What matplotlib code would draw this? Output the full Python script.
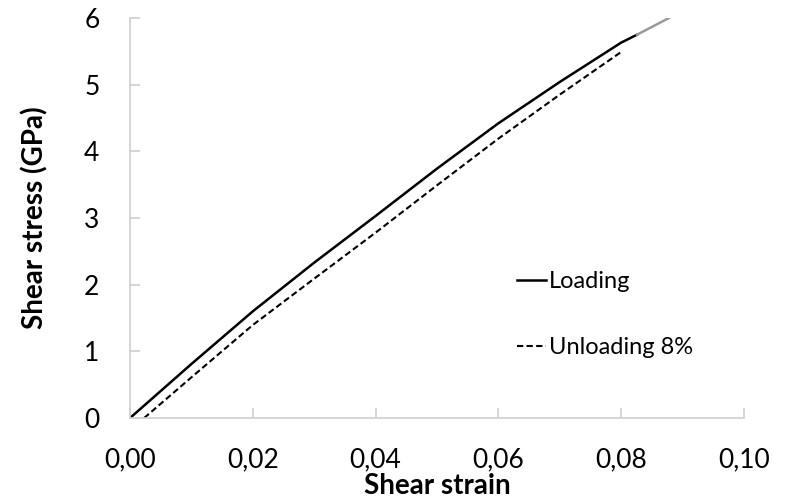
import matplotlib
matplotlib.use('Agg')
import matplotlib.pyplot as plt
from matplotlib.ticker import FuncFormatter

# loading curve (shear strain, shear stress in GPa)
load_strain = [0.0, 0.01, 0.02, 0.03, 0.04, 0.05, 0.06, 0.07, 0.08, 0.0826]
load_stress = [0.0, 0.81, 1.60, 2.33, 3.03, 3.74, 4.42, 5.04, 5.63, 5.75]
# tail of the loading curve past the unloading point
tail_strain = [0.0826, 0.0878]
tail_stress = [5.75, 6.0]
# unloading from 8 %
unload_strain = [0.0023, 0.01, 0.02, 0.03, 0.04, 0.05, 0.06, 0.07, 0.08]
unload_stress = [0.0, 0.61, 1.395, 2.09, 2.78, 3.49, 4.19, 4.85, 5.49]

plt.rcParams['font.family'] = ['Lato', 'DejaVu Sans']

fig = plt.figure(figsize=(7.88, 5.0), dpi=100)
ax = fig.add_axes([0.165, 0.164, 0.779, 0.8])

ax.plot(load_strain, load_stress, '-', color='black', lw=1.8, label='Loading')
ax.plot(tail_strain, tail_stress, '-', color='#9a9a9a', lw=1.8)
ax.plot(unload_strain, unload_stress, '--', color='black', lw=1.5,
        dashes=(3, 1.6), label='Unloading 8%')

ax.set_xlim(0, 0.10)
ax.set_ylim(0, 6)
ax.set_xticks([0, 0.02, 0.04, 0.06, 0.08, 0.10])
ax.set_yticks(range(0, 7))
ax.xaxis.set_major_formatter(FuncFormatter(lambda v, p: f'{v:.2f}'.replace('.', ',')))

for side in ('top', 'right'):
    ax.spines[side].set_visible(False)
for side in ('left', 'bottom'):
    ax.spines[side].set_color('#d0d0d0')
    ax.spines[side].set_linewidth(1.2)
ax.tick_params(direction='in', length=7, width=1.2, color='#d0d0d0',
               labelsize=19, pad=21)
ax.tick_params(axis='y', pad=22)

ax.set_xlabel('Shear strain', fontsize=20, fontweight='bold')
ax.set_ylabel('Shear stress (GPa)', fontsize=20, fontweight='bold')
ax.xaxis.set_label_coords(0.5, -0.138)
ax.yaxis.set_label_coords(-0.133, 0.5)

ax.legend(loc='upper left', bbox_to_anchor=(0.615, 0.39), frameon=False,
          fontsize=17, handlelength=1.25, handletextpad=0.1, labelspacing=1.9,
          borderaxespad=0)

fig.savefig('out.png', dpi=100)
